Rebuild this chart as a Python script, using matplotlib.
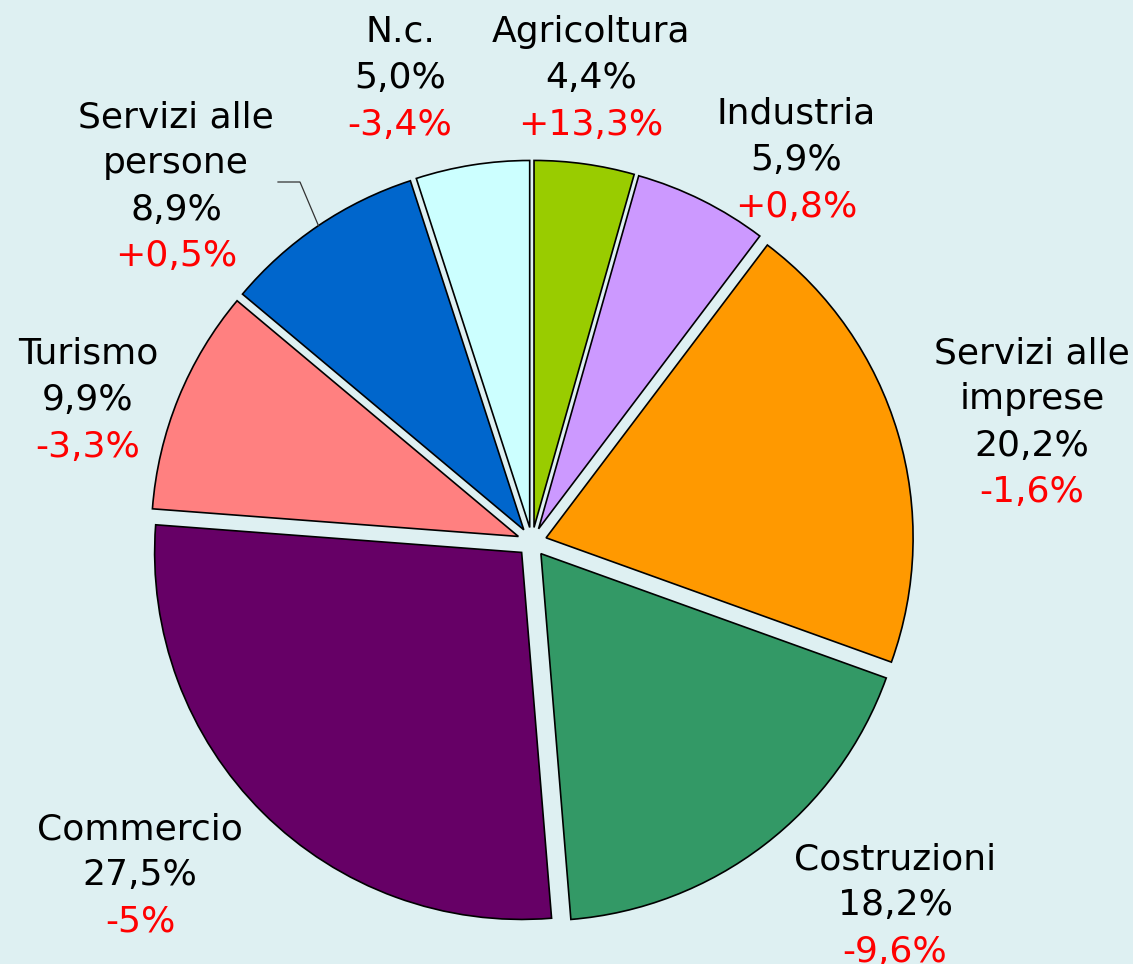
import numpy as np
import matplotlib
matplotlib.use("Agg")
import matplotlib.pyplot as plt

# dati (in senso orario a partire dall'alto)
settori = ["Agricoltura", "Industria", "Servizi alle\nimprese", "Costruzioni",
           "Commercio", "Turismo", "Servizi alle\npersone", "N.c."]
quote = [4.4, 5.9, 20.2, 18.2, 27.5, 9.9, 8.9, 5.0]
variazioni = ["+13,3%", "+0,8%", "-1,6%", "-9,6%", "-5%", "-3,3%", "+0,5%", "-3,4%"]
colori = ["#99cc00", "#cc99ff", "#ff9900", "#339966",
          "#660066", "#ff8080", "#0066cc", "#ccffff"]

# posizione etichette: centro x, linea di base della prima riga (pixel immagine)
pos_etichette = [(591, 42), (796, 124), (1032, 363), (895, 869),
                 (140, 839), (88, 364), (176, 127), (400, 42)]

larghezza, altezza = 1133, 964
sfondo = "#def0f2"
centro = (532, altezza - 542)
raggio = 367
stacco = 14.7
passo = 46.3

fig = plt.figure(figsize=(larghezza / 100, altezza / 100), dpi=100)
fig.patch.set_facecolor(sfondo)
ax = fig.add_axes([0, 0, 1, 1])
ax.set_facecolor(sfondo)

spicchi, _ = ax.pie(quote, colors=colori, startangle=90, counterclock=False,
                    explode=[stacco] * len(quote), radius=raggio, center=centro,
                    wedgeprops=dict(edgecolor="black", linewidth=1.2))

ax.set_xlim(0, larghezza)
ax.set_ylim(0, altezza)
ax.set_aspect("equal")
ax.axis("off")

for nome, q, var, (x, yb) in zip(settori, quote, variazioni, pos_etichette):
    righe = nome.split("\n") + [f"{q:.1f}".replace(".", ",") + "%"]
    for i, r in enumerate(righe):
        ax.text(x, altezza - (yb + i * passo), r, ha="center", va="baseline",
                fontsize=26, color="black", family="DejaVu Sans")
    ax.text(x, altezza - (yb + len(righe) * passo), var, ha="center", va="baseline",
            fontsize=26, color="red", family="DejaVu Sans")

# linea di richiamo per "Servizi alle persone"
w = spicchi[6]
ang = np.deg2rad((w.theta1 + w.theta2) / 2)
xe = w.center[0] + w.r * np.cos(ang)
ye = w.center[1] + w.r * np.sin(ang)
ax.plot([278, 300, xe], [altezza - 182, altezza - 182, ye], color="#333333", linewidth=0.9)

fig.savefig("out.png", dpi=100, facecolor=sfondo)
